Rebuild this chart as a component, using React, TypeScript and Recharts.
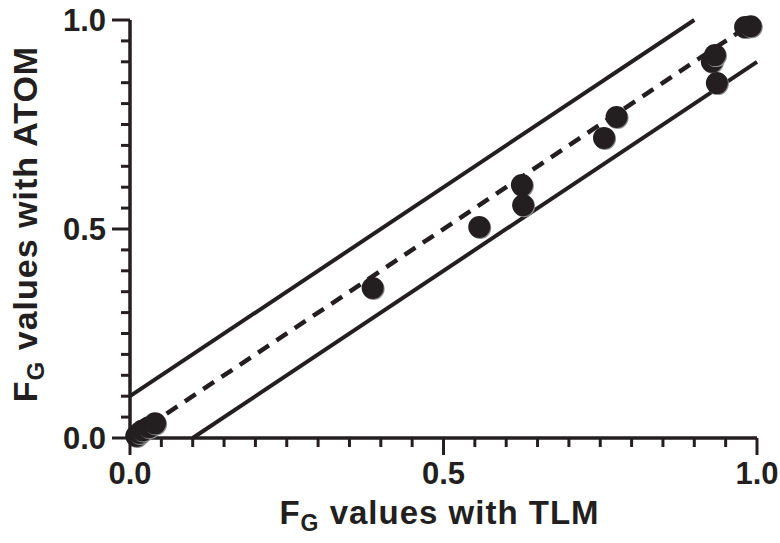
import { ScatterChart, Scatter, XAxis, YAxis, ReferenceLine } from 'recharts';

const INK = '#231f20';
const FONT = '"Liberation Sans", Arial, sans-serif';

// F_G values: TLM (x) vs ATOM (y)
const tlmValues = [0.01, 0.015, 0.02, 0.03, 0.04, 0.387, 0.557, 0.625, 0.627, 0.756, 0.776, 0.928, 0.933, 0.936, 0.981, 0.99];
const atomValues = [0.005, 0.012, 0.018, 0.026, 0.035, 0.359, 0.505, 0.605, 0.557, 0.718, 0.768, 0.9, 0.916, 0.849, 0.983, 0.985];

const identityLine = [{ x: 0, y: 0 }, { x: 1, y: 1 }];
const upperLimit = [{ x: 0, y: 0.1 }, { x: 0.9, y: 1 }];
const lowerLimit = [{ x: 0.1, y: 0 }, { x: 1, y: 0.9 }];

const allTicks = [0, 0.05, 0.1, 0.15, 0.2, 0.25, 0.3, 0.35, 0.4, 0.45, 0.5, 0.55, 0.6, 0.65, 0.7, 0.75, 0.8, 0.85, 0.9, 0.95, 1];
const majorTicks = [0, 0.5, 1];

const points = tlmValues.map((x, i) => ({ x, y: atomValues[i] }));

const isMajor = (v: number) => majorTicks.some((m) => Math.abs(m - v) < 1e-6);

const XTick = (props: any) => {
    const { x, y, payload } = props;
    const major = isMajor(payload.value);
    return (
        <g>
            <line x1={x} x2={x} y1={y} y2={y + (major ? 17 : 9)} stroke={INK} strokeWidth={3} />
            {major && (
                <text x={x} y={y + 46} textAnchor="middle" fill={INK} fontFamily={FONT} fontWeight="bold" fontSize={31}>
                    {payload.value.toFixed(1)}
                </text>
            )}
        </g>
    );
};

const YTick = (props: any) => {
    const { x, y, payload } = props;
    const major = isMajor(payload.value);
    return (
        <g>
            <line x1={x} x2={x - (major ? 18 : 9)} y1={y} y2={y} stroke={INK} strokeWidth={3} />
            {major && (
                <text x={x - 24} y={y + 11} textAnchor="end" fill={INK} fontFamily={FONT} fontWeight="bold" fontSize={31}>
                    {payload.value.toFixed(1)}
                </text>
            )}
        </g>
    );
};

const Dot = (props: any) => {
    const { cx, cy } = props;
    return (
        <g>
            <circle cx={cx + 1} cy={cy + 1} r={11} fill="#8c8c8c" />
            <circle cx={cx} cy={cy} r={11} fill={INK} />
        </g>
    );
};

const XTitle = (props: any) => {
    const { viewBox } = props;
    const cx = viewBox.x + viewBox.width / 2 - 4;
    return (
        <text x={cx} y={524} textAnchor="middle" fill={INK} fontFamily={FONT} fontWeight="bold" fontSize={33} letterSpacing={1}>
            <tspan>F</tspan>
            <tspan fontSize={23} dy={7}>G</tspan>
            <tspan dy={-7}> values with TLM</tspan>
        </text>
    );
};

const YTitle = () => {
    const cx = 25;
    const cy = 224;
    return (
        <text x={cx} y={cy + 12} transform={`rotate(-90, ${cx}, ${cy})`} textAnchor="middle" fill={INK} fontFamily={FONT} fontWeight="bold" fontSize={34} letterSpacing={1}>
            <tspan>F</tspan>
            <tspan fontSize={24} dy={7}>G</tspan>
            <tspan dy={-7}> values with ATOM</tspan>
        </text>
    );
};

export default function App() {
    return (
        <div style={{ position: 'absolute', left: 0, top: 0, width: 780, height: 543, background: '#fff' }}>
            <ScatterChart width={780} height={543} margin={{ top: 20, right: 23, bottom: 0, left: 0 }}>
                <XAxis
                    type="number"
                    dataKey="x"
                    domain={[0, 1]}
                    ticks={allTicks}
                    interval={0}
                    height={105}
                    tickSize={0}
                    tickMargin={0}
                    tickLine={false}
                    tick={<XTick />}
                    axisLine={{ stroke: INK, strokeWidth: 3.5 }}
                    label={{ content: <XTitle /> }}
                />
                <YAxis
                    type="number"
                    dataKey="y"
                    domain={[0, 1]}
                    ticks={allTicks}
                    interval={0}
                    width={130}
                    tickSize={0}
                    tickMargin={0}
                    tickLine={false}
                    tick={<YTick />}
                    axisLine={{ stroke: INK, strokeWidth: 3.5 }}
                    label={{ content: <YTitle /> }}
                />
                <ReferenceLine segment={upperLimit} stroke={INK} strokeWidth={4} />
                <ReferenceLine segment={lowerLimit} stroke={INK} strokeWidth={4} />
                <ReferenceLine segment={identityLine} stroke={INK} strokeWidth={4.5} strokeDasharray="13 9" />
                <Scatter data={points} shape={<Dot />} isAnimationActive={false} />
            </ScatterChart>
        </div>
    );
}
